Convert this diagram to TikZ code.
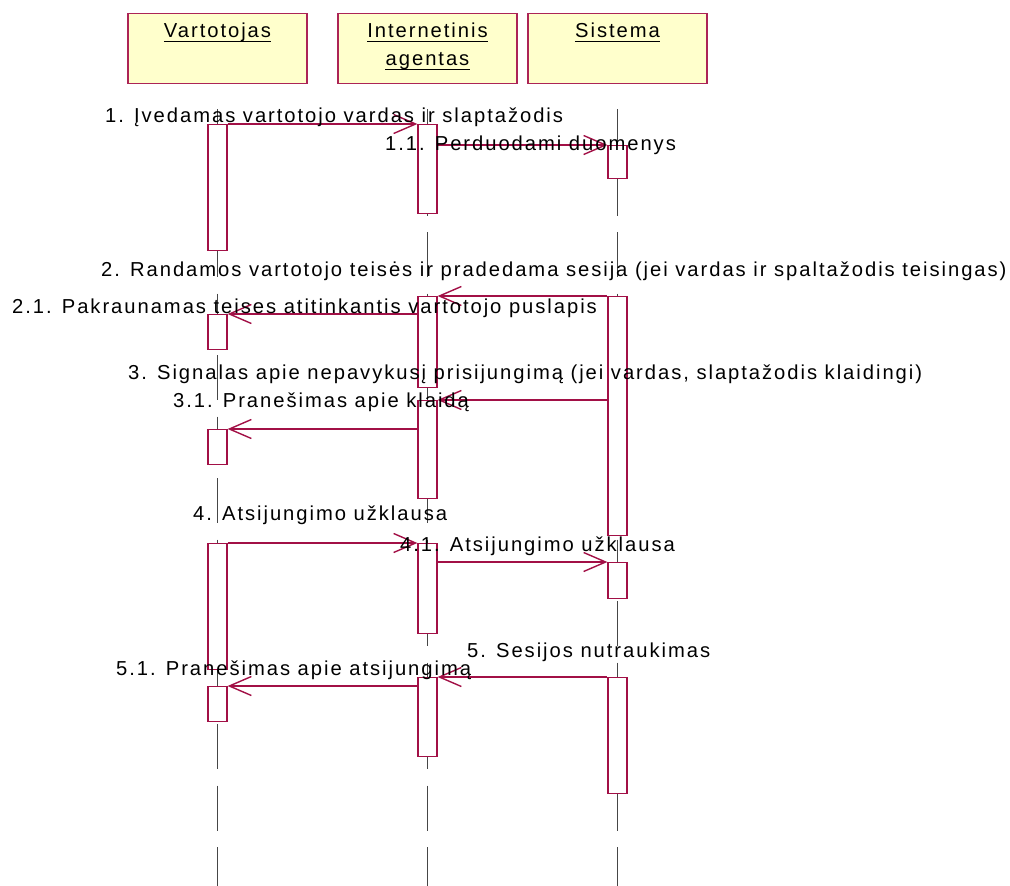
\documentclass[tikz,border=0pt]{standalone}
\usepackage{fontspec}
\setmainfont{Liberation Sans}[LetterSpace=9.7]
\usetikzlibrary{arrows.meta}
\definecolor{umlred}{RGB}{162,16,70}
\definecolor{umlpink}{RGB}{212,118,148}
\definecolor{noteyellow}{RGB}{255,255,204}
\definecolor{lifegray}{RGB}{70,70,70}
\newcommand\umlfont{\fontsize{20.2}{24}\selectfont}
\begin{document}
\begin{tikzpicture}[x=1pt, y=-1pt,
  header/.style={draw=umlred!80!umlpink, line width=1.2pt, fill=noteyellow,
    minimum width=179pt, minimum height=70pt, inner sep=0pt, anchor=north},
  headtext/.style={anchor=base, inner sep=0pt, font=\umlfont},
  act/.style={draw=umlred, fill=white, line width=1.2pt, minimum width=19pt,
    inner sep=0pt, anchor=north},
  lifeline/.style={draw=lifegray, line width=1.5pt, dash pattern=on 45pt off 16.5pt},
  msg/.style={draw=umlred, line width=1.4pt,
    -{Straight Barb[length=22pt, width=19pt, line width=1.4pt]}},
  msgtext/.style={anchor=base west, inner sep=0pt, font=\umlfont}]
\useasboundingbox (0,0) rectangle (1010,886);
\coordinate (bot) at (0,886);

% object headers
\node[header] (hv) at (217.5,13) {};
\node[header] (hi) at (427.5,13) {};
\node[header] (hs) at (617.5,13) {};
\node[headtext] (nv) at (217.5,37) {Vartotojas};
\node[headtext] (ni) at (427.5,37) {Internetinis\ };
\node[headtext] (ni2) at (427.5,65) {agentas};
\node[headtext] (ns) at (617.5,37) {Sistema};
\foreach \t in {nv,ni,ni2,ns}
  \draw[line width=1.6pt] ([yshift=-4.5pt]\t.base west) -- ([yshift=-4.5pt]\t.base east);

% lifelines
\foreach \h in {hv,hi,hs}
  \draw[lifeline] ([yshift=-25pt]\h.south) -- (\h.south |- bot);

% activation bars
\node[act, minimum height=126pt] (va1) at (217.5,124) {};
\node[act, minimum height=89pt]  (ia1) at (427.5,124) {};
\node[act, minimum height=33pt]  (sa1) at (617.5,145) {};
\node[act, minimum height=239pt] (sa2) at (617.5,296) {};
\node[act, minimum height=91pt]  (ia2) at (427.5,296) {};
\node[act, minimum height=35pt]  (va2) at (217.5,314) {};
\node[act, minimum height=98pt]  (ia3) at (427.5,400) {};
\node[act, minimum height=35pt]  (va3) at (217.5,429) {};
\node[act, minimum height=126pt] (va4) at (217.5,543) {};
\node[act, minimum height=90pt]  (ia4) at (427.5,543) {};
\node[act, minimum height=36pt]  (sa4) at (617.5,562) {};
\node[act, minimum height=116pt] (sa5) at (617.5,677) {};
\node[act, minimum height=79pt]  (ia5) at (427.5,677) {};
\node[act, minimum height=35pt]  (va5) at (217.5,686) {};

% messages
\draw[msg] (va1.north east) -- (ia1.north west);
\draw[msg] (ia1.east |- sa1.north) -- (sa1.north west);
\draw[msg] (sa2.north west) -- (ia2.north east);
\draw[msg] (ia2.west |- va2.north) -- (va2.north east);
\draw[msg] (sa2.west |- ia3.north) -- (ia3.north east);
\draw[msg] (ia3.west |- va3.north) -- (va3.north east);
\draw[msg] (va4.north east) -- (ia4.north west);
\draw[msg] (ia4.east |- sa4.north) -- (sa4.north west);
\draw[msg] (sa5.north west) -- (ia5.north east);
\draw[msg] (ia5.west |- va5.north) -- (va5.north east);

% message labels
\node[msgtext] (t1)  at (105,122) {1. Įvedamas vartotojo vardas ir slaptažodis};
\node[msgtext] (t11) at (385,150) {1.1. Perduodami duomenys};
\node[msgtext] (t2)  at (101,276) {2. Randamos vartotojo teisės ir pradedama sesija (jei vardas ir spaltažodis teisingas)};
\node[msgtext] (t21) at (12,313)  {2.1. Pakraunamas teises atitinkantis vartotojo puslapis};
\node[msgtext] (t3)  at (128,379) {3. Signalas apie nepavykusį prisijungimą (jei vardas, slaptažodis klaidingi)};
\node[msgtext] (t31) at (173,407) {3.1. Pranešimas apie klaidą};
\node[msgtext] (t4)  at (193,520) {4. Atsijungimo užklausa};
\node[msgtext] (t41) at (400,551) {4.1. Atsijungimo užklausa};
\node[msgtext] (t5)  at (467,657) {5. Sesijos nutraukimas};
\node[msgtext] (t51) at (116,675) {5.1. Pranešimas apie atsijungimą};
\end{tikzpicture}
\end{document}
